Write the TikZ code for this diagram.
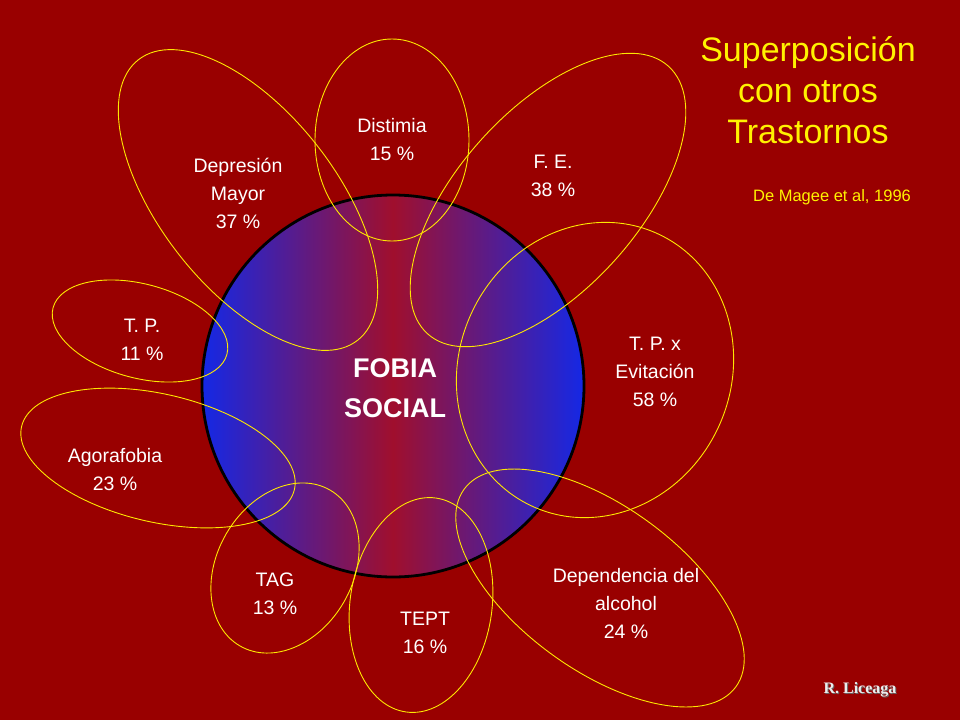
\documentclass[tikz,border=0pt]{standalone}
\usepackage{fontspec}
\setmainfont{Liberation Sans}
\newfontfamily\serifF{Liberation Serif}
\begin{document}
\begin{tikzpicture}[x=1pt,y=-1pt,
  ell/.style={draw=yellow!90!orange, line width=0.9pt},
  lab/.style={text=white, align=center, font=\fontsize{19.5}{28}\selectfont}]
\definecolor{bg}{RGB}{153,0,0}
\fill[bg] (0,0) rectangle (960,720);
\useasboundingbox (0,0) rectangle (960,720);
\node[circle, minimum size=382pt, draw=black, line width=2.8pt,
  left color={rgb,255:red,20;green,40;blue,230}, right color={rgb,255:red,20;green,40;blue,230}, middle color={rgb,255:red,160;green,15;blue,45}] (fs) at (393,386) {};
\node[text=white, align=center, font=\bfseries\fontsize{27}{40}\selectfont] (fst) at (395,388) {FOBIA\\SOCIAL};
\draw[ell] (392,140) ellipse [x radius=77, y radius=101];
\draw[ell, rotate around={-52:(248,200)}] (248,200) ellipse [x radius=178, y radius=88];
\draw[ell, rotate around={48:(548,200)}] (548,200) ellipse [x radius=180, y radius=90];
\draw[ell, rotate around={-15:(140,331)}] (140,331) ellipse [x radius=90, y radius=47];
\draw[ell, rotate around={65:(595,370)}] (595,370) ellipse [x radius=150, y radius=136];
\draw[ell, rotate around={-13:(158,458)}] (158,458) ellipse [x radius=140, y radius=64];
\draw[ell, rotate around={60:(285,568)}] (285,568) ellipse [x radius=90, y radius=68];
\draw[ell, rotate around={82:(421,605)}] (421,605) ellipse [x radius=108, y radius=71];
\draw[ell, rotate around={-36:(600,588)}] (600,588) ellipse [x radius=168, y radius=82];
\node[lab] (l1) at (392,140) {Distimia\\15 \%};
\node[lab] (l2) at (238,193) {Depresión\\Mayor\\37 \%};
\node[lab] (l3) at (553,176) {F. E.\\38 \%};
\node[lab] (l4) at (142,340) {T. P.\\11 \%};
\node[lab] (l5) at (655,372) {T. P. x\\Evitación\\58 \%};
\node[lab] (l6) at (115,470) {Agorafobia\\23 \%};
\node[lab] (l7) at (275,594) {TAG\\13 \%};
\node[lab] (l8) at (425,633) {TEPT\\16 \%};
\node[lab] (l9) at (626,603) {Dependencia del\\alcohol\\24 \%};
\node[text=yellow, align=center, font=\fontsize{34}{41}\selectfont] (t) at (808,90) {Superposición\\con otros\\Trastornos};
\node[text=yellow, font=\fontsize{16.5}{20}\selectfont] (m) at (832,197) {De Magee et al, 1996};
\node[text=black!60, font=\serifF\bfseries\fontsize{16}{18}\selectfont] at (861,691) {R. Liceaga};
\node[text=white!85!gray, font=\serifF\bfseries\fontsize{16}{18}\selectfont] (rl) at (860,690) {R. Liceaga};
\end{tikzpicture}
\end{document}
